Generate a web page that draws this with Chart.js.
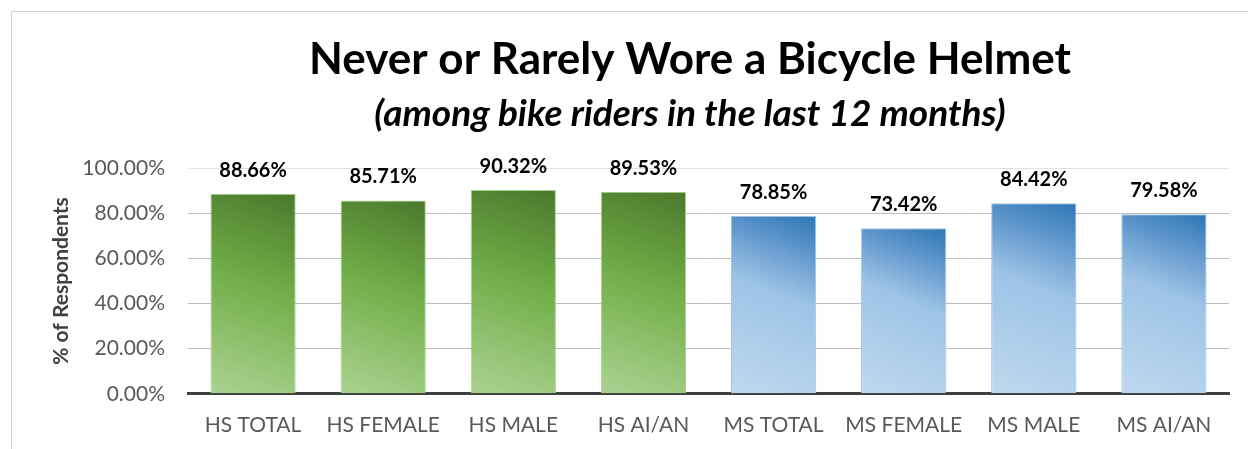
<html>
<head>
    <script src="https://cdn.jsdelivr.net/npm/chart.js@4/dist/chart.umd.min.js"></script>
    <title>Bicycle Helmet</title>
    <style>
        body { margin: 0; background: #fff; overflow: hidden; }
        #frame { position: absolute; left: 11px; top: 11px; width: 1300px; height: 500px; border: 1px solid #d0d0d0; }
        #wrap { position: absolute; left: 0; top: 0; width: 1248px; height: 449px; }
    </style>
</head>
<body>
<div id="frame"></div>
<div id="wrap"><canvas id="helmet-chart" width="1248" height="449"></canvas></div>

<script>
    // data
    var categories = ['HS TOTAL', 'HS FEMALE', 'HS MALE', 'HS AI/AN', 'MS TOTAL', 'MS FEMALE', 'MS MALE', 'MS AI/AN'];
    var percents = [88.66, 85.71, 90.32, 89.53, 78.85, 73.42, 84.42, 79.58];
    var schools = ['HS', 'HS', 'HS', 'HS', 'MS', 'MS', 'MS', 'MS'];
    var yTicks = [0, 20, 40, 60, 80, 100];

    var FONT = 'Lato, "Open Sans", sans-serif';
    var BAR_PCT = 0.655;

    var gradStops = {
        HS: ['#4a782c', '#70ad47', '#a9d18e'],
        MS: ['#2e75b6', '#9dc3e6', '#bdd7ee']
    };
    var borderCols = { HS: '#a9d18e', MS: '#9dc3e6' };

    function barFill(ctx) {
        var chart = ctx.chart;
        var i = ctx.dataIndex;
        if (!chart.chartArea || i === undefined) return gradStops.HS[1];
        var xs = chart.scales.x, ys = chart.scales.y;
        var cx = xs.getPixelForValue(i);
        var half = xs.width / categories.length * BAR_PCT / 2;
        var top = ys.getPixelForValue(percents[i]);
        var bottom = ys.getPixelForValue(0);
        var stops = gradStops[schools[i]];
        var g = chart.ctx.createLinearGradient(cx + half, top, cx - half * 0.6, bottom);
        g.addColorStop(0, stops[0]);
        g.addColorStop(0.45, stops[1]);
        g.addColorStop(1, stops[2]);
        return g;
    }

    // value labels above the bars
    var barLabels = {
        id: 'barLabels',
        afterDatasetsDraw: function(chart) {
            var c = chart.ctx;
            var meta = chart.getDatasetMeta(0);
            c.save();
            c.font = 'bold 20px ' + FONT;
            c.fillStyle = '#000';
            c.textAlign = 'center';
            c.textBaseline = 'alphabetic';
            meta.data.forEach(function(bar, i) {
                c.fillText(percents[i].toFixed(2) + '%', bar.x, bar.y - 17);
            });
            c.restore();
        }
    };

    new Chart(document.getElementById('helmet-chart'), {
        type: 'bar',
        data: {
            labels: categories,
            datasets: [{
                data: percents,
                backgroundColor: barFill,
                borderColor: function(ctx) { return borderCols[schools[ctx.dataIndex]] || '#ccc'; },
                borderWidth: 1,
                barPercentage: BAR_PCT,
                categoryPercentage: 1
            }]
        },
        plugins: [barLabels],
        options: {
            responsive: false,
            animation: false,
            // the original is cut off on the right, so its titles sit right of centre:
            // negative right padding widens the title boxes, the empty right axis fills the gap
            layout: { padding: { left: 40, right: -92, top: 0, bottom: -8 } },
            plugins: {
                legend: { display: false },
                tooltip: { enabled: false },
                title: {
                    display: true,
                    text: 'Never or Rarely Wore a Bicycle Helmet',
                    color: '#000',
                    font: { family: FONT, size: 44, weight: 'bold' },
                    padding: { top: 33, bottom: 0 }
                },
                subtitle: {
                    display: true,
                    text: '(among bike riders in the last 12 months)',
                    color: '#000',
                    font: { family: FONT, size: 37, weight: 'bold', style: 'italic' },
                    padding: { top: 6, bottom: 32 }
                }
            },
            scales: {
                x: {
                    grid: { display: false, drawTicks: false },
                    border: { display: true, color: '#404040', width: 3 },
                    ticks: { color: '#595959', font: { family: FONT, size: 21 }, padding: 19 }
                },
                y: {
                    min: 0,
                    max: 100,
                    afterBuildTicks: function(scale) {
                        scale.ticks = yTicks.map(function(v) { return { value: v }; });
                    },
                    afterFit: function(scale) { scale.width = 148; },
                    grid: {
                        color: function(ctx) { return ctx.tick && ctx.tick.value === 100 ? '#e2e2e2' : '#bcbcbc'; },
                        lineWidth: 1,
                        drawTicks: false
                    },
                    border: { display: false },
                    ticks: {
                        color: '#595959',
                        font: { family: FONT, size: 21 },
                        padding: 23,
                        callback: function(v) { return v.toFixed(2) + '%'; }
                    },
                    title: {
                        display: true,
                        text: '% of Respondents',
                        color: '#404040',
                        font: { family: FONT, size: 21, weight: 'bold' },
                        padding: { top: 9, bottom: 0 }
                    }
                },
                spacer: {
                    type: 'linear',
                    position: 'right',
                    min: 0,
                    max: 1,
                    afterFit: function(scale) { scale.width = 111; },
                    grid: { display: false, drawTicks: false },
                    border: { display: false },
                    ticks: { display: false }
                }
            }
        }
    });
</script>
</body>
</html>
